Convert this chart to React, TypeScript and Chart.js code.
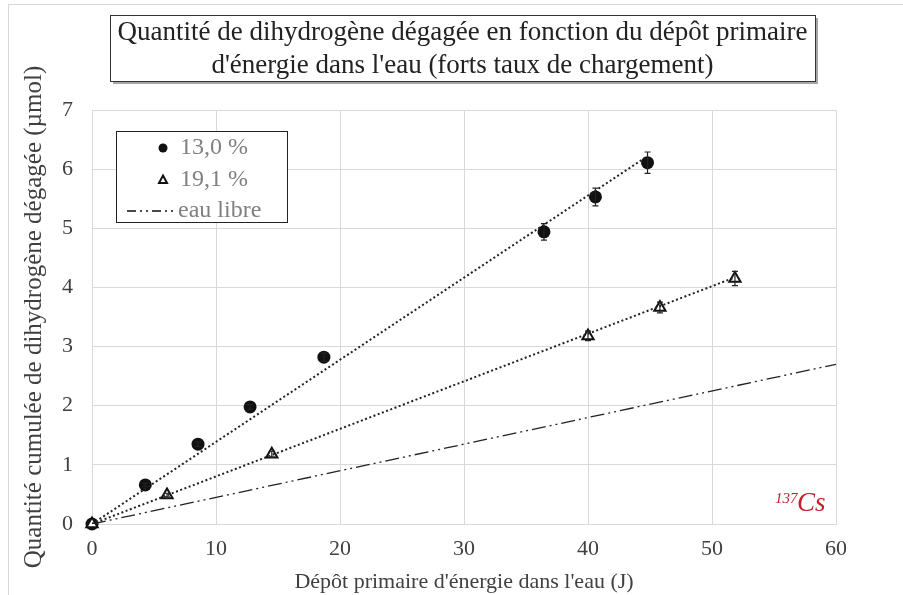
import React, { useEffect, useRef } from "react";
import { Chart, registerables } from "chart.js";

Chart.register(...registerables);

// ---- Data ----
const titleLines = [
  "Quantité de dihydrogène dégagée en fonction du dépôt primaire",
  "d'énergie dans l'eau (forts taux de chargement)",
];
const xAxisTitle = "Dépôt primaire d'énergie dans l'eau (J)";
const yAxisTitle = "Quantité cumulée de dihydrogène dégagée (µmol)";

const s13Label = "13,0 %";
const s13X = [0, 4.3, 8.55, 12.75, 18.7, 36.45, 40.6, 44.8];
const s13Y = [0, 0.66, 1.35, 1.98, 2.82, 4.94, 5.53, 6.11];
const s13Err = [0, 0.03, 0.04, 0.04, 0.07, 0.14, 0.15, 0.18];
const s13TrendX = [0, 44.8];
const s13TrendY = [0, 6.22];

const s19Label = "19,1 %";
const s19X = [0, 6.05, 14.5, 40.0, 45.8, 51.85];
const s19Y = [0, 0.49, 1.18, 3.18, 3.66, 4.15];
const s19Err = [0, 0.03, 0.05, 0.08, 0.09, 0.12];
const s19TrendX = [0, 51.85];
const s19TrendY = [0, 4.17];

const eauLabel = "eau libre";
const eauX = [0, 60];
const eauY = [0, 2.7];

const xTicksMin = 0;
const xTicksMax = 60;
const xStep = 10;
const yTicksMin = 0;
const yTicksMax = 7;
const yStep = 1;

const sourceLabelSup = "137";
const sourceLabel = "Cs";

const SERIF = "'Liberation Serif', 'Times New Roman', serif";
const GRID = "#d9d9d9";
const EAU_DASH = [14, 4, 2, 4, 2, 4];

const toPts = (xs: number[], ys: number[]) => xs.map((x, i) => ({ x, y: ys[i] }));

export default function App() {
  const ref = useRef<HTMLCanvasElement | null>(null);

  useEffect(() => {
    if (!ref.current) return;

    const decorPlugin = {
      id: "decor",
      beforeDraw(chart: any) {
        const ctx = chart.ctx;
        ctx.save();
        ctx.fillStyle = "#ffffff";
        ctx.fillRect(0, 0, chart.width, chart.height);
        ctx.strokeStyle = GRID;
        ctx.lineWidth = 1;
        ctx.strokeRect(8.5, 4.5, chart.width + 20, chart.height + 20);
        ctx.restore();
      },
      afterDatasetsDraw(chart: any) {
        const ctx = chart.ctx;
        const xs = chart.scales.x;
        const ys = chart.scales.y;
        const drawErr = (X: number[], Y: number[], E: number[]) => {
          ctx.save();
          ctx.strokeStyle = "#222";
          ctx.lineWidth = 1.2;
          X.forEach((x, i) => {
            const e = E[i];
            if (!e) return;
            const px = xs.getPixelForValue(x);
            const top = ys.getPixelForValue(Y[i] + e);
            const bot = ys.getPixelForValue(Y[i] - e);
            ctx.beginPath();
            ctx.moveTo(px, top);
            ctx.lineTo(px, bot);
            ctx.moveTo(px - 3, top);
            ctx.lineTo(px + 3, top);
            ctx.moveTo(px - 3, bot);
            ctx.lineTo(px + 3, bot);
            ctx.stroke();
          });
          ctx.restore();
        };
        drawErr(s13X, s13Y, s13Err);
        drawErr(s19X, s19Y, s19Err);
      },
      afterDraw(chart: any) {
        const ctx = chart.ctx;
        ctx.save();
        // Title box
        const bx = 110, by = 15, bw = 705, bh = 66;
        ctx.fillStyle = "rgba(0,0,0,0.35)";
        ctx.fillRect(bx + 3, by + 3, bw, bh);
        ctx.fillStyle = "#fff";
        ctx.fillRect(bx, by, bw, bh);
        ctx.strokeStyle = "#333";
        ctx.lineWidth = 1;
        ctx.strokeRect(bx + 0.5, by + 0.5, bw, bh);
        ctx.fillStyle = "#222";
        ctx.font = `27px ${SERIF}`;
        ctx.textAlign = "center";
        ctx.textBaseline = "middle";
        ctx.fillText(titleLines[0], bx + bw / 2, by + 18);
        ctx.fillText(titleLines[1], bx + bw / 2, by + 51);

        // Legend box
        const lx = 116, ly = 131, lw = 171, lh = 91;
        ctx.fillStyle = "#fff";
        ctx.fillRect(lx, ly, lw, lh);
        ctx.strokeStyle = "#222";
        ctx.strokeRect(lx + 0.5, ly + 0.5, lw, lh);
        ctx.font = `24px ${SERIF}`;
        ctx.textAlign = "left";
        ctx.fillStyle = "#808080";
        ctx.fillText(s13Label, 180, 148);
        ctx.fillText(s19Label, 180, 180);
        ctx.fillText(eauLabel, 178, 211);
        // markers
        ctx.fillStyle = "#111";
        ctx.beginPath();
        ctx.arc(163, 148, 4.5, 0, Math.PI * 2);
        ctx.fill();
        ctx.strokeStyle = "#111";
        ctx.lineWidth = 2;
        ctx.beginPath();
        ctx.moveTo(163, 175.5);
        ctx.lineTo(167, 183);
        ctx.lineTo(159, 183);
        ctx.closePath();
        ctx.stroke();
        ctx.lineWidth = 1.3;
        ctx.setLineDash([9, 4, 2, 4, 2, 4]);
        ctx.beginPath();
        ctx.moveTo(127, 211);
        ctx.lineTo(176, 211);
        ctx.stroke();
        ctx.setLineDash([]);

        // source annotation
        ctx.fillStyle = "#c0202a";
        ctx.textAlign = "left";
        ctx.textBaseline = "alphabetic";
        ctx.font = `italic 15px ${SERIF}`;
        ctx.fillText(sourceLabelSup, 775, 503);
        ctx.font = `italic 27px ${SERIF}`;
        ctx.fillText(sourceLabel, 797, 511);
        ctx.restore();
      },
    };

    const chart = new Chart(ref.current, {
      type: "scatter",
      data: {
        datasets: [
          {
            label: eauLabel,
            data: toPts(eauX, eauY),
            showLine: true,
            borderColor: "#222",
            borderWidth: 1.3,
            borderDash: EAU_DASH,
            pointRadius: 0,
            fill: false,
          },
          {
            label: s13Label + " trend",
            data: toPts(s13TrendX, s13TrendY),
            showLine: true,
            borderColor: "#222",
            borderWidth: 2,
            borderDash: [2, 2.5],
            pointRadius: 0,
          },
          {
            label: s19Label + " trend",
            data: toPts(s19TrendX, s19TrendY),
            showLine: true,
            borderColor: "#222",
            borderWidth: 2,
            borderDash: [2, 2.5],
            pointRadius: 0,
          },
          {
            label: s19Label,
            data: toPts(s19X, s19Y),
            pointStyle: "triangle",
            pointRadius: 6.5,
            pointBackgroundColor: "#fff",
            pointBorderColor: "#111",
            pointBorderWidth: 2,
            showLine: false,
            clip: false,
          },
          {
            label: s13Label,
            data: toPts(s13X, s13Y),
            pointRadius: 6.5,
            pointBackgroundColor: "#111",
            pointBorderColor: "#111",
            pointBorderWidth: 0,
            showLine: false,
            clip: false,
          },
        ],
      },
      options: {
        animation: false,
        responsive: false,
        maintainAspectRatio: false,
        layout: { padding: { left: 0, top: 110, right: 67, bottom: 0 } },
        plugins: {
          legend: { display: false },
          title: { display: false },
          tooltip: { enabled: false },
        },
        scales: {
          x: {
            type: "linear",
            min: xTicksMin,
            max: xTicksMax,
            afterFit: (s: any) => {
              s.height = 71;
            },
            ticks: {
              stepSize: xStep,
              color: "#404040",
              font: { family: SERIF, size: 22 },
              padding: 12,
            },
            grid: { color: GRID, lineWidth: 1, drawTicks: false },
            border: { color: GRID },
            title: {
              display: true,
              text: xAxisTitle,
              color: "#404040",
              font: { family: SERIF, size: 22 },
              padding: { top: 0, bottom: 0 },
            },
          },
          y: {
            type: "linear",
            min: yTicksMin,
            max: yTicksMax,
            afterFit: (s: any) => {
              s.width = 92;
            },
            ticks: {
              stepSize: yStep,
              color: "#404040",
              font: { family: SERIF, size: 22 },
              padding: 19,
            },
            grid: { color: GRID, lineWidth: 1, drawTicks: false },
            border: { color: GRID },
            title: {
              display: true,
              text: yAxisTitle,
              color: "#404040",
              font: { family: SERIF, size: 25 },
              padding: { top: 19, bottom: 0 },
            },
          },
        },
      },
      plugins: [decorPlugin],
    } as any);

    return () => chart.destroy();
  }, []);

  return (
    <div style={{ position: "fixed", left: 0, top: 0, width: 903, height: 595, background: "#fff" }}>
      <canvas ref={ref} width={903} height={595} style={{ width: 903, height: 595, display: "block" }} />
    </div>
  );
}
